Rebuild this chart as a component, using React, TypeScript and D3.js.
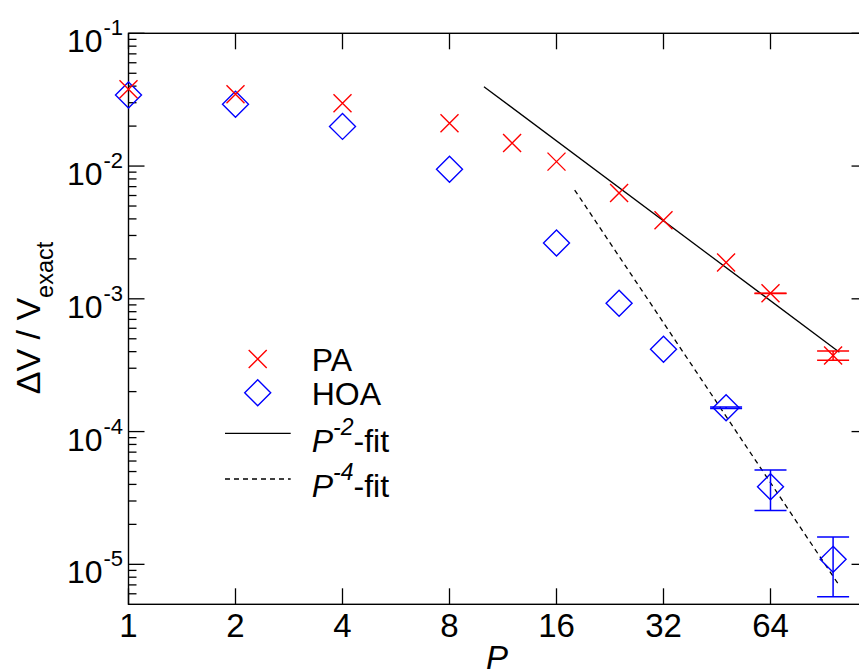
import React, { useEffect, useRef } from "react";
import * as d3 from "d3";

// P values and relative error for both methods
const PA_P = [1, 2, 4, 8, 12, 16, 24, 32, 48, 64, 96];
const PA_VALUES = [0.0379, 0.0347, 0.0297, 0.021, 0.0149, 0.0108, 0.00626, 0.0039, 0.00188, 0.0011, 0.000374];
const PA_ERRORS = [0, 0, 0, 0, 0, 0, 0, 0, 0, 0.000002, 0.00003];

const HOA_P = [1, 2, 4, 8, 16, 24, 32, 48, 64, 96];
const HOA_VALUES = [0.0343, 0.0292, 0.0199, 0.00945, 0.00263, 0.000925, 0.000417, 0.000151, 0.0000384, 0.0000109];
const HOA_ERRORS = [0, 0, 0, 0, 0, 0, 0, 0.000002, 0.000013, 0.0000052];

// fit line end points [P, value]
const FIT2_P = [10, 100];
const FIT2_VALUES = [0.0396, 0.000396];
const FIT4_P = [18, 100];
const FIT4_VALUES = [0.0066, 0.0000069];

const X_TICKS = [1, 2, 4, 8, 16, 32, 64];
const Y_EXPONENTS = [-1, -2, -3, -4, -5];

const FONT = "'Liberation Sans', Arial, Helvetica, sans-serif";

export default function App() {
    const ref = useRef<SVGSVGElement>(null);

    useEffect(() => {
        const svg = d3.select(ref.current);
        svg.selectAll("*").remove();

        var left = 128.5, top = 33.3, bottom = 604.3;
        var xScale = d3.scaleLog().base(2).domain([1, 120]).range([left, left + 107 * Math.log2(120)]);
        var yScale = d3.scaleLog().domain([5e-6, 0.1]).range([bottom, top]);
        var right = xScale(120);

        // frame
        svg.append("rect")
            .attr("x", left).attr("y", top)
            .attr("width", right - left).attr("height", bottom - top)
            .attr("fill", "none").attr("stroke", "#000").attr("stroke-width", 1.4);

        // y ticks, major + minor, both sides
        var yMinor: number[] = [];
        for (var e = -6; e <= -2; e++) {
            for (var k = 2; k <= 9; k++) {
                var v = k * Math.pow(10, e);
                if (v >= 5e-6 && v < 0.1) yMinor.push(v);
            }
        }
        var tg = svg.append("g").attr("stroke", "#000").attr("stroke-width", 1.3);
        yMinor.forEach(function (v) {
            var y = yScale(v);
            tg.append("line").attr("x1", left).attr("x2", left + 8).attr("y1", y).attr("y2", y);
            tg.append("line").attr("x1", right - 8).attr("x2", right).attr("y1", y).attr("y2", y);
        });
        Y_EXPONENTS.forEach(function (ex) {
            var y = yScale(Math.pow(10, ex));
            tg.append("line").attr("x1", left).attr("x2", left + 16).attr("y1", y).attr("y2", y);
            tg.append("line").attr("x1", right - 16).attr("x2", right).attr("y1", y).attr("y2", y);
        });
        X_TICKS.forEach(function (p) {
            var x = xScale(p);
            tg.append("line").attr("x1", x).attr("x2", x).attr("y1", bottom).attr("y2", bottom - 16);
            tg.append("line").attr("x1", x).attr("x2", x).attr("y1", top).attr("y2", top + 16);
        });

        // tick labels
        var lab = svg.append("g").attr("font-family", FONT).attr("fill", "#000");
        X_TICKS.forEach(function (p) {
            lab.append("text")
                .attr("x", xScale(p)).attr("y", 637)
                .attr("text-anchor", "middle").attr("font-size", 33)
                .text(String(p));
        });
        Y_EXPONENTS.forEach(function (ex) {
            var y = yScale(Math.pow(10, ex));
            lab.append("text")
                .attr("x", 102.5).attr("y", y + 19)
                .attr("text-anchor", "end").attr("font-size", 32)
                .text("10");
            lab.append("text")
                .attr("x", 103.5).attr("y", y + 2)
                .attr("font-size", 22)
                .text(String(ex));
        });

        // axis titles
        var yl = lab.append("text")
            .attr("transform", "translate(40,318) rotate(-90)")
            .attr("text-anchor", "middle").attr("font-size", 34);
        yl.append("tspan").text("\u0394V / V");
        yl.append("tspan").attr("font-size", 23.5).attr("dy", 13).text("exact");

        lab.append("text")
            .attr("x", 497).attr("y", 669)
            .attr("text-anchor", "middle").attr("font-size", 33).attr("font-style", "italic")
            .text("P");

        // fit lines
        var line = d3.line<[number, number]>()
            .x(function (d) { return xScale(d[0]); })
            .y(function (d) { return yScale(d[1]); });
        svg.append("path")
            .attr("d", line(d3.zip(FIT2_P, FIT2_VALUES) as [number, number][]))
            .attr("fill", "none").attr("stroke", "#000").attr("stroke-width", 1.3);
        svg.append("path")
            .attr("d", line(d3.zip(FIT4_P, FIT4_VALUES) as [number, number][]))
            .attr("fill", "none").attr("stroke", "#000").attr("stroke-width", 1.3)
            .attr("stroke-dasharray", "5,4");

        var crossPath = "M-9,-9L9,9M-9,9L9,-9";
        var diamondPath = "M0,-13L13,0L0,13L-13,0Z";

        // error bars
        function errorBars(ps: number[], vals: number[], errs: number[], color: string) {
            var g = svg.append("g").attr("stroke", color).attr("stroke-width", 1.5).attr("fill", "none");
            ps.forEach(function (p, i) {
                if (!errs[i]) return;
                var x = xScale(p);
                var y1 = yScale(vals[i] + errs[i]);
                var y2 = yScale(vals[i] - errs[i]);
                g.append("line").attr("x1", x).attr("x2", x).attr("y1", y1).attr("y2", y2);
                g.append("line").attr("x1", x - 16).attr("x2", x + 16).attr("y1", y1).attr("y2", y1);
                g.append("line").attr("x1", x - 16).attr("x2", x + 16).attr("y1", y2).attr("y2", y2);
            });
        }
        errorBars(PA_P, PA_VALUES, PA_ERRORS, "#ff0000");
        errorBars(HOA_P, HOA_VALUES, HOA_ERRORS, "#0000ff");

        // markers
        svg.append("g").selectAll("path")
            .data(d3.zip(HOA_P, HOA_VALUES))
            .enter().append("path")
            .attr("transform", function (d) { return "translate(" + xScale(d[0]) + "," + yScale(d[1]) + ")"; })
            .attr("d", diamondPath)
            .attr("fill", "none").attr("stroke", "#0000ff").attr("stroke-width", 1.4);
        svg.append("g").selectAll("path")
            .data(d3.zip(PA_P, PA_VALUES))
            .enter().append("path")
            .attr("transform", function (d) { return "translate(" + xScale(d[0]) + "," + yScale(d[1]) + ")"; })
            .attr("d", crossPath)
            .attr("fill", "none").attr("stroke", "#ff0000").attr("stroke-width", 1.4);

        // legend
        var lg = svg.append("g").attr("font-family", FONT).attr("font-size", 32);
        lg.append("path").attr("transform", "translate(257.7,359)").attr("d", crossPath)
            .attr("fill", "none").attr("stroke", "#ff0000").attr("stroke-width", 1.4);
        lg.append("text").attr("x", 311.7).attr("y", 370.7).text("PA");
        lg.append("path").attr("transform", "translate(257.7,392.7)").attr("d", diamondPath)
            .attr("fill", "none").attr("stroke", "#0000ff").attr("stroke-width", 1.4);
        lg.append("text").attr("x", 311.7).attr("y", 405).text("HOA");
        lg.append("line").attr("x1", 225).attr("x2", 290.7).attr("y1", 433.3).attr("y2", 433.3)
            .attr("stroke", "#000").attr("stroke-width", 1.3);
        var t2 = lg.append("text").attr("x", 311.7).attr("y", 451.7);
        t2.append("tspan").attr("font-style", "italic").text("P");
        t2.append("tspan").attr("font-style", "italic").attr("font-size", 23).attr("dy", -17).text("-2");
        t2.append("tspan").attr("dy", 17).text("-fit");
        lg.append("line").attr("x1", 225).attr("x2", 290.7).attr("y1", 479).attr("y2", 479)
            .attr("stroke", "#000").attr("stroke-width", 1.3).attr("stroke-dasharray", "5,4");
        var t4 = lg.append("text").attr("x", 311.7).attr("y", 496.7);
        t4.append("tspan").attr("font-style", "italic").text("P");
        t4.append("tspan").attr("font-style", "italic").attr("font-size", 23).attr("dy", -17).text("-4");
        t4.append("tspan").attr("dy", 17).text("-fit");
    }, []);

    return (
        <svg
            ref={ref}
            width={859}
            height={672}
            style={{ position: "absolute", left: 0, top: 0, background: "#fff" }}
        ></svg>
    );
}
